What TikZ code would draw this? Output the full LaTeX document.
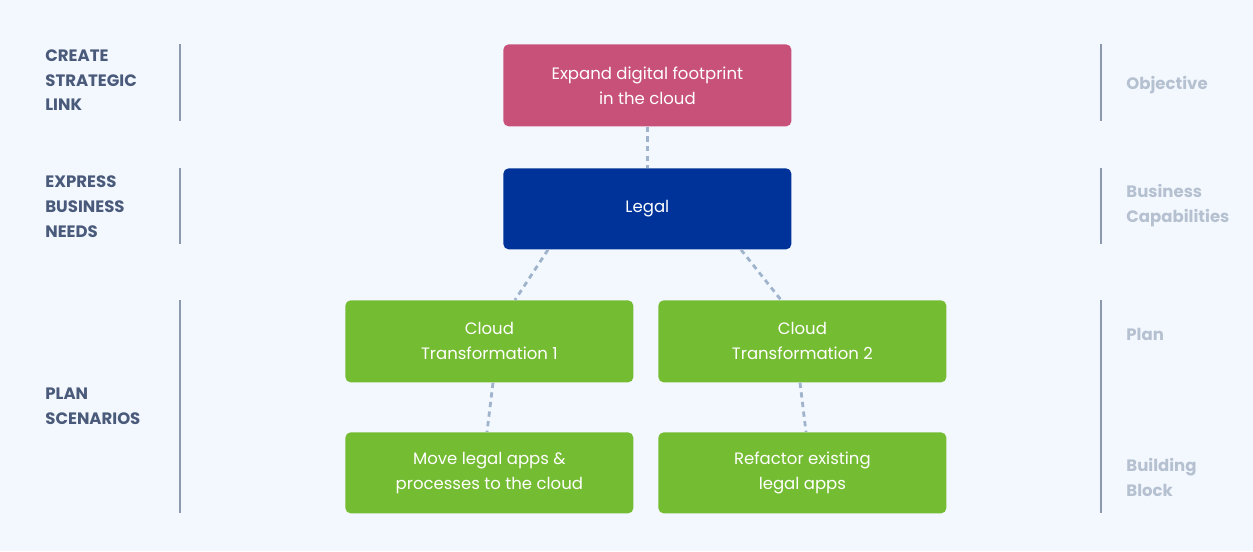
\documentclass[tikz,border=0pt]{standalone}
\usepackage{fontspec}
\setmainfont{Poppins}
\definecolor{bg}{HTML}{F3F8FE}
\definecolor{pinkc}{HTML}{C8517A}
\definecolor{bluec}{HTML}{00339A}
\definecolor{greenc}{HTML}{74BC32}
\definecolor{dashc}{HTML}{9FB4CC}
\definecolor{barc}{HTML}{8C9AB0}
\definecolor{lefttxt}{HTML}{4A5A7A}
\definecolor{righttxt}{HTML}{B5C0D0}
\begin{document}
\begin{tikzpicture}[x=0.02cm,y=-0.02cm,
  box/.style={rounded corners=3pt,minimum width=288*0.02cm,minimum height=82*0.02cm,text=white,align=center,font=\fontsize{9.4}{14.2}\selectfont,inner sep=0pt,anchor=north west},
  conn/.style={draw=dashc,line width=1.6pt,dash pattern=on 3pt off 2.5pt},
  bar/.style={draw=barc,line width=1.5pt},
  lt/.style={anchor=north west,align=left,text=lefttxt,font=\fontsize{9.4}{14.2}\selectfont\bfseries,inner sep=0pt},
  rt/.style={anchor=north west,align=left,text=righttxt,font=\fontsize{9.4}{14.2}\selectfont\bfseries,inner sep=0pt}]
\fill[bg] (0,0) rectangle (1253,551);
\useasboundingbox (0,0) rectangle (1253,551);
\node[box,fill=pinkc] (obj) at (503,44) {Expand digital footprint\\in the cloud};
\node[box,fill=bluec,minimum height=81*0.02cm] (legal) at (503,168) {Legal};
\node[box,fill=greenc] (ct1) at (345,300) {Cloud\\Transformation 1};
\node[box,fill=greenc] (ct2) at (658,300) {Cloud\\Transformation 2};
\node[box,fill=greenc,minimum height=81*0.02cm] (mv) at (345,432) {Move legal apps \&\\processes to the cloud};
\node[box,fill=greenc,minimum height=81*0.02cm] (rf) at (658,432) {Refactor existing\\legal apps};
\draw[conn] (obj.south) -- (legal.north);
\draw[conn] ([xshift=45*0.02cm]legal.south west) -- ([xshift=170*0.02cm]ct1.north west);
\draw[conn] ([xshift=238*0.02cm]legal.south west) -- ([xshift=123*0.02cm]ct2.north west);
\draw[conn] ([xshift=148*0.02cm]ct1.south west) -- ([xshift=142*0.02cm]mv.north west);
\draw[conn] ([xshift=142*0.02cm]ct2.south west) -- ([xshift=148*0.02cm]rf.north west);
\coordinate (l1a) at (180,44); \coordinate (l1b) at (180,121);
\coordinate (l2a) at (180,168); \coordinate (l2b) at (180,244);
\coordinate (l3a) at (180,300); \coordinate (l3b) at (180,513);
\coordinate (r1a) at (1101,44); \coordinate (r1b) at (1101,121);
\coordinate (r2a) at (1101,168); \coordinate (r2b) at (1101,244);
\coordinate (r3a) at (1101,300); \coordinate (r3b) at (1101,513);
\draw[bar] (l1a) -- (l1b); \draw[bar] (l2a) -- (l2b); \draw[bar] (l3a) -- (l3b);
\draw[bar] (r1a) -- (r1b); \draw[bar] (r2a) -- (r2b); \draw[bar] (r3a) -- (r3b);
\node[lt] (t1) at (45,49) {CREATE\\STRATEGIC\\LINK};
\node[lt] (t2) at (45,175) {EXPRESS\\BUSINESS\\NEEDS};
\node[lt] (t3) at (45,388) {PLAN\\SCENARIOS};
\node[rt] (s1) at (1126,76) {Objective};
\node[rt] (s2) at (1126,184) {Business\\Capabilities};
\node[rt] (s3) at (1126,328) {Plan};
\node[rt] (s4) at (1126,458) {Building\\Block};
\end{tikzpicture}
\end{document}
